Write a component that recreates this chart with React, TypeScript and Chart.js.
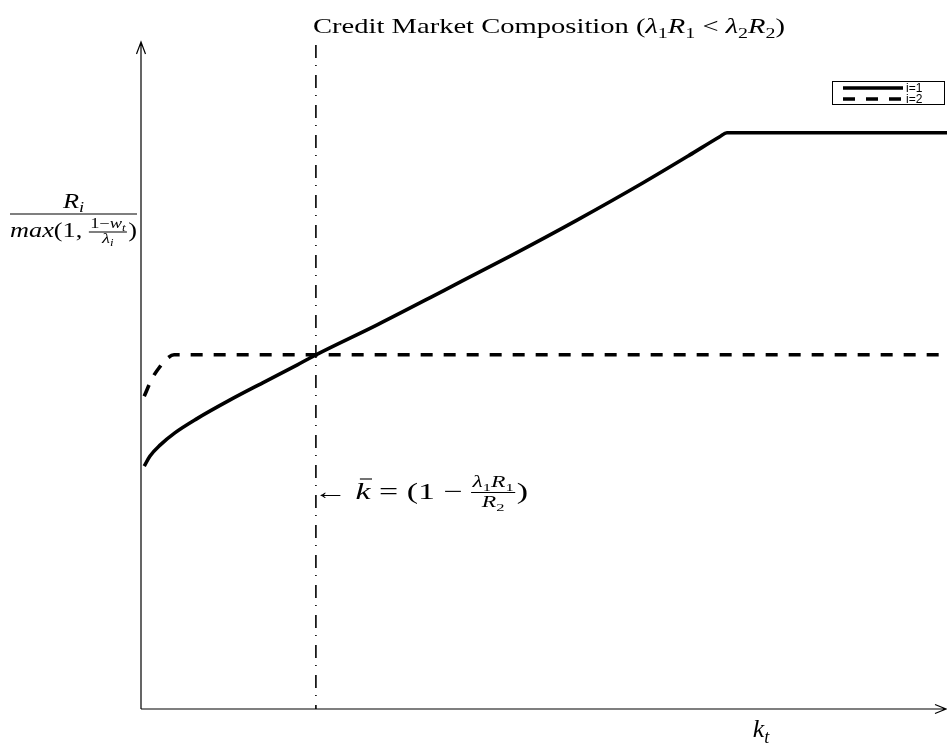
import React, { useEffect, useRef } from "react";
import { Chart, registerables } from "chart.js";

Chart.register(...registerables);

// k_t (normalised) and the two return curves R_i / max(1, (1-w_t)/λ_i)
const kGridSolid = [0.004, 0.011, 0.024, 0.042, 0.069, 0.11, 0.151, 0.194, 0.217, 0.293, 0.375, 0.458, 0.541, 0.623, 0.68, 0.718, 0.727, 1.0];
const returnsI1 = [0.364, 0.379, 0.396, 0.414, 0.435, 0.463, 0.489, 0.516, 0.531, 0.576, 0.627, 0.679, 0.733, 0.789, 0.83, 0.858, 0.864, 0.864];

const kGridDashed = [0.004, 0.014, 0.024, 0.032, 0.041, 1.0];
const returnsI2 = [0.469, 0.496, 0.514, 0.525, 0.531, 0.531];

// threshold k̄ = 1 - λ1 R1 / R2
const kBar = 0.217;
const kBarSpan = [0.9955, 0];

const seriesLabels = ["i=1", "i=2"];

type Run = { t: string; it?: boolean; sub?: boolean };

const SERIF = '"Liberation Serif", "Times New Roman", serif';

function runFont(r: Run, size: number) {
  const s = size * (r.sub ? 0.7 : 1);
  return `${r.it ? "italic " : ""}${s}px ${SERIF}`;
}

function runsWidth(ctx: CanvasRenderingContext2D, runs: Run[], size: number) {
  let w = 0;
  for (const r of runs) {
    ctx.font = runFont(r, size);
    w += ctx.measureText(r.t).width;
  }
  return w;
}

function drawRuns(
  ctx: CanvasRenderingContext2D,
  runs: Run[],
  x: number,
  y: number,
  size: number,
  align: "left" | "center" = "left"
) {
  let cx = align === "center" ? x - runsWidth(ctx, runs, size) / 2 : x;
  ctx.textAlign = "left";
  ctx.textBaseline = "alphabetic";
  for (const r of runs) {
    ctx.font = runFont(r, size);
    ctx.fillText(r.t, cx, y + (r.sub ? size * 0.22 : 0));
    cx += ctx.measureText(r.t).width;
  }
  return cx;
}

function hline(ctx: CanvasRenderingContext2D, x1: number, x2: number, y: number, w = 1) {
  ctx.lineWidth = w;
  ctx.beginPath();
  ctx.moveTo(x1, y);
  ctx.lineTo(x2, y);
  ctx.stroke();
}

const titleRuns: Run[] = [
  { t: "Credit Market Composition (" },
  { t: "λ", it: true },
  { t: "1", sub: true },
  { t: "R", it: true },
  { t: "1", sub: true },
  { t: " < " },
  { t: "λ", it: true },
  { t: "2", sub: true },
  { t: "R", it: true },
  { t: "2", sub: true },
  { t: ")" },
];

const decorations = {
  id: "decorations",
  afterDatasetsDraw(chart: Chart) {
    const { ctx, chartArea } = chart;
    const { left, right, top, bottom } = chartArea;
    ctx.save();
    ctx.fillStyle = "#000";
    ctx.strokeStyle = "#000";

    // axes with open arrow heads
    ctx.lineWidth = 1.2;
    ctx.beginPath();
    ctx.moveTo(left, bottom);
    ctx.lineTo(left, top);
    ctx.moveTo(left - 4.5, top + 12);
    ctx.lineTo(left, top);
    ctx.lineTo(left + 4.5, top + 12);
    ctx.moveTo(left, bottom);
    ctx.lineTo(right - 1, bottom);
    ctx.moveTo(right - 12, bottom - 4.5);
    ctx.lineTo(right - 1, bottom);
    ctx.lineTo(right - 12, bottom + 4.5);
    ctx.stroke();

    // title, widened to the serif math look
    {
      const s = 21;
      const w = runsWidth(ctx, titleRuns, s);
      ctx.save();
      ctx.translate(313, 0);
      ctx.scale(472 / w, 1);
      drawRuns(ctx, titleRuns, 0, 33, s);
      ctx.restore();
    }

    // y-axis label: R_i / max(1, (1-w_t)/λ_i)
    {
      const s = 20;
      const small = 14;
      const lead: Run[] = [{ t: "max", it: true }, { t: "(1, " }];
      const numRuns: Run[] = [{ t: "1−" }, { t: "w", it: true }, { t: "t", it: true, sub: true }];
      const denRuns: Run[] = [{ t: "λ", it: true }, { t: "i", it: true, sub: true }];
      const close: Run[] = [{ t: ")" }];
      const A = runsWidth(ctx, lead, s);
      const fw = Math.max(runsWidth(ctx, numRuns, small), runsWidth(ctx, denRuns, small)) + 2;
      const C = runsWidth(ctx, close, s);
      const W = A + fw + 1 + C;
      ctx.save();
      ctx.translate(10, 0);
      ctx.scale(127 / W, 1);
      drawRuns(ctx, [{ t: "R", it: true }, { t: "i", it: true, sub: true }], W / 2, 208, s, "center");
      hline(ctx, 0, W, 214, 1.2);
      drawRuns(ctx, lead, 0, 237, s);
      drawRuns(ctx, numRuns, A + fw / 2, 228, small, "center");
      hline(ctx, A, A + fw, 232, 0.9);
      drawRuns(ctx, denRuns, A + fw / 2, 243, small, "center");
      drawRuns(ctx, close, A + fw + 1, 237, s);
      ctx.restore();
    }

    // threshold annotation
    {
      const s = 23;
      const fsz = 16;
      const head: Run[] = [{ t: "← " }];
      const kRun: Run[] = [{ t: "k", it: true }];
      const mid: Run[] = [{ t: " = (1 − " }];
      const aNum: Run[] = [{ t: "λ", it: true }, { t: "1", sub: true }, { t: "R", it: true }, { t: "1", sub: true }];
      const aDen: Run[] = [{ t: "R", it: true }, { t: "2", sub: true }];
      const close: Run[] = [{ t: ")" }];
      const wh = runsWidth(ctx, head, s);
      const wk = runsWidth(ctx, kRun, s);
      const wm = runsWidth(ctx, mid, s);
      const aw = runsWidth(ctx, aNum, fsz) + 2;
      const wc = runsWidth(ctx, close, s);
      const W = wh + wk + wm + aw + 1 + wc;
      ctx.save();
      ctx.translate(313, 0);
      ctx.scale(215 / W, 1);
      const base = 499;
      drawRuns(ctx, head, 0, base, s);
      drawRuns(ctx, kRun, wh, base, s);
      hline(ctx, wh + 3, wh + wk + 1, 479, 1.1);
      drawRuns(ctx, mid, wh + wk, base, s);
      const fx = wh + wk + wm;
      drawRuns(ctx, aNum, fx + aw / 2, 487, fsz, "center");
      hline(ctx, fx, fx + aw, 492.5, 1.1);
      drawRuns(ctx, aDen, fx + aw / 2, 507, fsz, "center");
      drawRuns(ctx, close, fx + aw + 1, base, s);
      ctx.restore();
    }

    // x-axis label
    drawRuns(ctx, [{ t: "k", it: true }, { t: "t", it: true, sub: true }], 761, 737, 26, "center");

    // legend
    const lx = 832, ly = 81, lw = 112, lh = 23;
    ctx.fillStyle = "#fff";
    ctx.fillRect(lx, ly, lw, lh);
    ctx.lineWidth = 1;
    ctx.strokeStyle = "#000";
    ctx.strokeRect(lx + 0.5, ly + 0.5, lw, lh);
    chart.data.datasets.slice(0, 2).forEach((ds: any, i: number) => {
      const yy = ly + 7 + i * 11;
      ctx.save();
      ctx.lineWidth = 3.4;
      ctx.setLineDash(ds.borderDash || []);
      ctx.beginPath();
      ctx.moveTo(lx + 11, yy);
      ctx.lineTo(lx + 71, yy);
      ctx.stroke();
      ctx.restore();
      ctx.fillStyle = "#000";
      ctx.font = '12px "Liberation Sans", Arial, sans-serif';
      ctx.textBaseline = "middle";
      ctx.textAlign = "left";
      ctx.fillText(seriesLabels[i], lx + 74, yy + 0.5);
    });
    ctx.restore();
  },
};

export default function App() {
  const ref = useRef<HTMLCanvasElement | null>(null);

  useEffect(() => {
    if (!ref.current) return;
    const chart = new Chart(ref.current, {
      type: "line",
      data: {
        datasets: [
          {
            label: seriesLabels[0],
            data: kGridSolid.map((k, i) => ({ x: k, y: returnsI1[i] })),
            borderColor: "#000",
            borderWidth: 3.6,
            pointRadius: 0,
            cubicInterpolationMode: "monotone",
            fill: false,
          },
          {
            label: seriesLabels[1],
            data: kGridDashed.map((k, i) => ({ x: k, y: returnsI2[i] })),
            borderColor: "#000",
            borderWidth: 3.6,
            borderDash: [12, 11],
            borderCapStyle: "butt",
            pointRadius: 0,
            cubicInterpolationMode: "monotone",
            fill: false,
          },
          {
            label: "threshold",
            data: kBarSpan.map((y) => ({ x: kBar, y })),
            borderColor: "#000",
            borderWidth: 1.6,
            borderDash: [13, 7, 1, 9],
            pointRadius: 0,
            fill: false,
          },
        ],
      },
      options: {
        animation: false,
        responsive: false,
        devicePixelRatio: 1,
        layout: { padding: { left: 141, top: 42, right: 0, bottom: 39 } },
        plugins: { legend: { display: false }, tooltip: { enabled: false }, title: { display: false } },
        scales: {
          x: { type: "linear", min: 0, max: 1, display: false },
          y: { type: "linear", min: 0, max: 1, display: false },
        },
      },
      plugins: [decorations],
    });
    return () => chart.destroy();
  }, []);

  return (
    <div style={{ position: "absolute", left: 0, top: 0, width: 947, height: 748, background: "#fff" }}>
      <canvas ref={ref} width={947} height={748} />
    </div>
  );
}
